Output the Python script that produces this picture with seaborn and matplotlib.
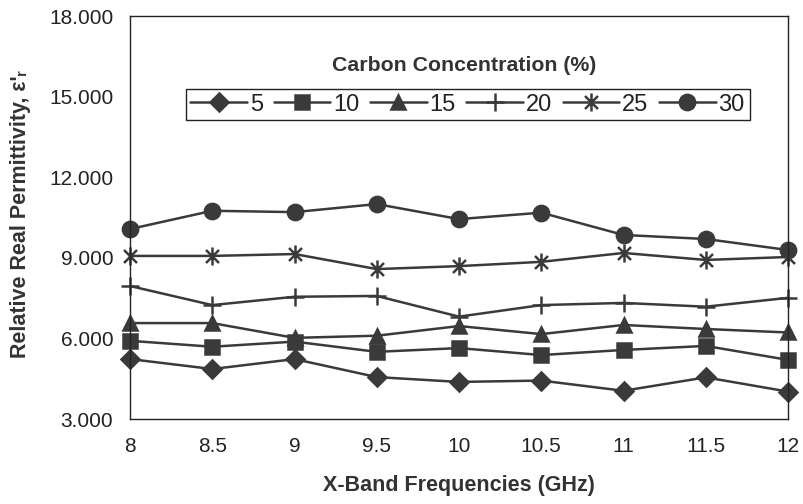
import numpy as np
import pandas as pd
import matplotlib
matplotlib.use("Agg")
import matplotlib.pyplot as plt
from matplotlib.path import Path
import seaborn as sns

# ---- data ----
freqs = [8, 8.5, 9, 9.5, 10, 10.5, 11, 11.5, 12]
conc_labels = ["5", "10", "15", "20", "25", "30"]
eps_5 = [5.23, 4.86, 5.23, 4.56, 4.38, 4.43, 4.05, 4.55, 4.02]
eps_10 = [5.91, 5.69, 5.88, 5.50, 5.64, 5.38, 5.57, 5.72, 5.20]
eps_15 = [6.57, 6.57, 6.02, 6.10, 6.46, 6.16, 6.50, 6.35, 6.22]
eps_20 = [7.95, 7.24, 7.55, 7.58, 6.81, 7.24, 7.32, 7.18, 7.51]
eps_25 = [9.07, 9.07, 9.14, 8.58, 8.69, 8.85, 9.18, 8.92, 9.03]
eps_30 = [10.07, 10.75, 10.70, 11.00, 10.44, 10.68, 9.85, 9.70, 9.29]
yticks = [3, 6, 9, 12, 15, 18]
xticks = [8, 8.5, 9, 9.5, 10, 10.5, 11, 11.5, 12]
xtick_labels = ["8", "8.5", "9", "9.5", "10", "10.5", "11", "11.5", "12"]

series = [eps_5, eps_10, eps_15, eps_20, eps_25, eps_30]
df = pd.DataFrame({
    "freq": np.tile(freqs, len(series)),
    "eps": np.concatenate(series),
    "conc": np.repeat(conc_labels, len(freqs)),
})

# ---- style ----
sns.set_theme(style="white")
plt.rcParams["font.family"] = ["Liberation Sans", "DejaVu Sans"]

col = "#3a3a3a"
txt = "#222222"
star = Path([(0, -1), (0, 1), (-0.72, -0.72), (0.72, 0.72), (-0.72, 0.72), (0.72, -0.72)],
            [Path.MOVETO, Path.LINETO, Path.MOVETO, Path.LINETO, Path.MOVETO, Path.LINETO])
seaborn_markers = ["D", "s", "^", "o", "o", "o"]
final_markers = ["D", "s", "^", "+", star, "o"]
msizes = [9, 9.5, 10, 13, 13, 11]

fig = plt.figure(figsize=(8.04, 5.04), dpi=100)
ax = fig.add_axes([130 / 804, 1 - 419 / 504, 658 / 804, 403 / 504])

sns.lineplot(data=df, x="freq", y="eps", hue="conc", style="conc",
             hue_order=conc_labels, style_order=conc_labels,
             palette=[col] * 6, markers=seaborn_markers, dashes=False,
             linewidth=1.8, ax=ax, legend=True)


def restyle(line, mk, ms):
    line.set_marker(mk)
    line.set_markersize(ms)
    line.set_markerfacecolor(col)
    line.set_markeredgecolor(col)
    line.set_markeredgewidth(1.8)
    line.set_linewidth(1.8)
    line.set_color(col)


for ln, mk, ms in zip(ax.lines, final_markers, msizes):
    restyle(ln, mk, ms)
    ln.set_clip_on(False)

ax.set_xlim(8, 12)
ax.set_ylim(3, 18)
ax.set_xticks(xticks)
ax.set_xticklabels(xtick_labels)
ax.set_yticks(yticks)
ax.set_yticklabels([f"{v:.3f}" for v in yticks])
ax.tick_params(axis="both", labelsize=15, colors=txt, width=1)
ax.tick_params(axis="y", direction="inout", length=14, pad=5)
ax.tick_params(axis="x", direction="out", length=5, pad=8)
for s in ax.spines.values():
    s.set_color(txt)
    s.set_linewidth(1.0)
    s.set_visible(True)

ax.set_xlabel("X-Band Frequencies (GHz)", fontsize=15.5, fontweight="bold",
              color="#333333")
ax.xaxis.set_label_coords(0.5, -0.138)
ax.set_ylabel("Relative Real Permittivity, ε'ᵣ", fontsize=15.5, fontweight="bold",
              color="#333333")
ax.yaxis.set_label_coords(-0.150, 0.509)

handles, labels = ax.get_legend_handles_labels()
for h, mk, ms in zip(handles, final_markers, msizes):
    restyle(h, mk, ms)
leg = ax.legend(handles, labels, ncol=6, loc="center",
                bbox_to_anchor=(0.513, 0.780), fontsize=17, frameon=True,
                fancybox=False, edgecolor=txt, handlelength=2.4,
                handletextpad=0.12, columnspacing=0.45, borderpad=0.2,
                framealpha=1)
leg.get_frame().set_linewidth(1.0)
for t in leg.get_texts():
    t.set_color(txt)

ax.text(0.5076, 0.878, "Carbon Concentration (%)", transform=ax.transAxes,
        ha="center", va="center", fontsize=15.3, fontweight="bold", color="#333333")

fig.savefig("out.png", dpi=100)
